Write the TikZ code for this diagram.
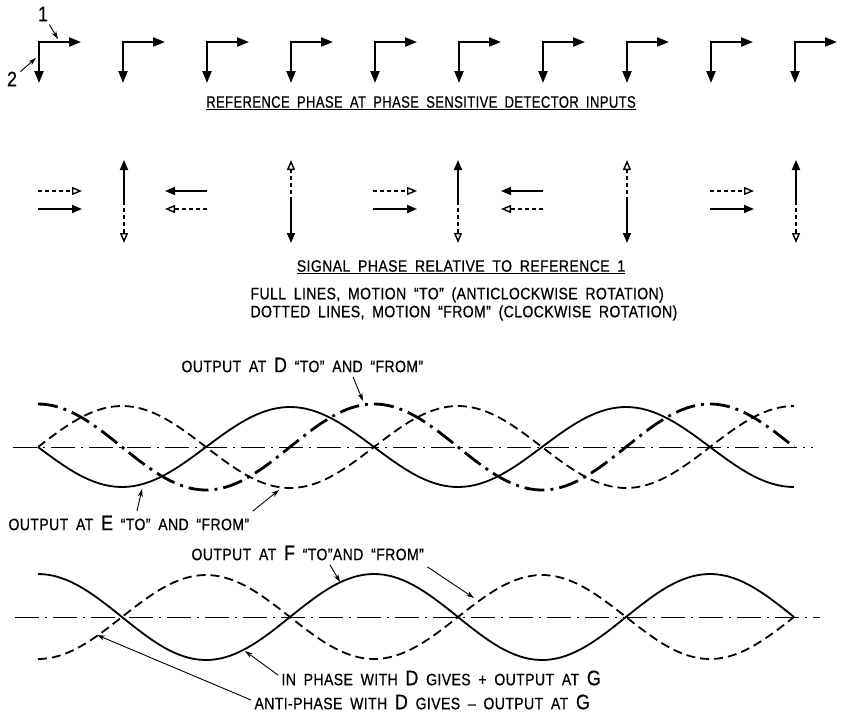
\documentclass[tikz,border=0pt]{standalone}
\usepackage{fontspec}
\setmainfont{Liberation Sans}[LetterSpace=2.5,WordSpace=1.8,FakeStretch=0.85,FakeBold=0.6]
\usepackage{tikz}
\usetikzlibrary{arrows.meta}

\newcommand\labsize{\fontsize{16.5}{18}\selectfont}
\newcommand\bigletter[1]{{\fontsize{21}{21}\selectfont #1}}

\tikzset{
  refarrow/.style={line width=2.2pt, miter limit=4, {Triangle[length=12pt,width=9pt]}-{Triangle[length=12pt,width=9pt]}},
  fullarrow/.style={line width=1.8pt, -{Triangle[length=10pt,width=8pt]}},
  dotarrow/.style={line width=1.8pt, dash pattern=on 4pt off 3pt, -{Triangle[open,length=10pt,width=8pt,line width=1.4pt]}},
  axisline/.style={line width=0.8pt, dash pattern=on 24pt off 6pt on 2pt off 6pt},
  wavefull/.style={line width=1.8pt},
  wavedash/.style={line width=1.8pt, dash pattern=on 9pt off 5pt},
  wavedot/.style={line width=2.8pt, dash pattern=on 20pt off 6pt on 3pt off 6pt},
  pointer/.style={line width=0.9pt, -{Stealth[length=8pt,width=5pt]}},
}

\begin{document}
\begin{tikzpicture}[x=1pt,y=-1pt,font=\labsize]
\useasboundingbox (0,0) rectangle (842,712);

% reference phase
\foreach \x in {39,123,...,795}{
  \draw[refarrow] (\x+42,42) -- (\x,42) -- (\x,83);
}
\node (one) at (43,14) {\bigletter{1}};
\node (two) at (12,79) {\bigletter{2}};
\coordinate (onetip) at (58,39);
\coordinate (twotip) at (36,58);
\draw[pointer] (one) -- (onetip);
\draw[pointer] (two) -- (twotip);
\node (refcap) at (421,103) {\scalebox{0.93}[1]{\underline{REFERENCE PHASE AT PHASE SENSITIVE DETECTOR INPUTS}}};

% signal phase
\foreach \x in {38,373,710}{
  \draw[dotarrow] (\x,191) -- ++(44,0);
  \draw[fullarrow] (\x,209) -- ++(44,0);
}
\foreach \x in {207,543}{
  \draw[fullarrow] (\x,191) -- ++(-42,0);
  \draw[dotarrow] (\x,209) -- ++(-42,0);
}
\foreach \x in {124,458,796}{
  \draw[fullarrow] (\x,201) -- (\x,160);
  \draw[dotarrow] (\x,201) -- (\x,243);
}
\foreach \x in {291,627}{
  \draw[dotarrow] (\x,201) -- (\x,160);
  \draw[fullarrow] (\x,201) -- (\x,243);
}
\node (sigcap) at (461,267) {\underline{SIGNAL PHASE RELATIVE TO REFERENCE 1}};
\node[anchor=west] (fullnote) at (247,295) {FULL LINES, MOTION “TO” (ANTICLOCKWISE ROTATION)};
\node[anchor=west] (dotnote) at (247,313) {DOTTED LINES, MOTION “FROM” (CLOCKWISE ROTATION)};

% outputs at D and E
\draw[axisline] (13,447) -- (813,447);
\draw[wavefull] plot[domain=38:794,samples=150] (\x,{447+40*sin((\x-38)*1.0714286)});
\draw[wavedash] plot[domain=38:794,samples=150] (\x,{447-41*sin((\x-38)*1.0714286)});
\draw[wavedot] plot[domain=38:794,samples=150] (\x,{447-43*cos((\x-38)*1.0714286)});

\node[anchor=west] (dlab) at (178,365) {OUTPUT AT \bigletter{D} “TO” AND “FROM”};
\node[anchor=west] (elab) at (5,523) {OUTPUT AT \bigletter{E} “TO” AND “FROM”};
\coordinate (dtip) at (363,401);
\coordinate (etipa) at (142,489);
\coordinate (etipb) at (279,490);
\draw[pointer] ([xshift=175pt,yshift=-1pt]dlab.south west) -- (dtip);
\draw[pointer] ([xshift=132pt,yshift=1pt]elab.north west) -- (etipa);
\draw[pointer] ([yshift=1pt]elab.north east) -- (etipb);

% outputs at F
\draw[axisline] (15,617) -- (820,617);
\draw[wavefull] plot[domain=38:794,samples=150] (\x,{617-43*cos((\x-38)*1.0714286)});
\draw[wavedash] plot[domain=38:794,samples=150] (\x,{617+42*cos((\x-38)*1.0714286)});

\node[anchor=west] (flab) at (188,553) {OUTPUT AT \bigletter{F} “TO”AND “FROM”};
\node[anchor=west] (inlab) at (278,678) {IN PHASE WITH \bigletter{D} GIVES + OUTPUT AT \bigletter{G}};
\node[anchor=west] (antilab) at (251,702) {ANTI-PHASE WITH \bigletter{D} GIVES – OUTPUT AT \bigletter{G}};
\coordinate (ftipa) at (340,582);
\coordinate (ftipb) at (474,598);
\coordinate (intip) at (245,651);
\coordinate (antitip) at (97,635);
\draw[pointer] ([xshift=142pt,yshift=-1pt]flab.south west) -- (ftipa);
\draw[pointer] ([yshift=-3pt]flab.south east) -- (ftipb);
\draw[pointer] ([yshift=3pt]inlab.west) -- (intip);
\draw[pointer] ([yshift=2pt]antilab.west) -- (antitip);
\end{tikzpicture}
\end{document}
